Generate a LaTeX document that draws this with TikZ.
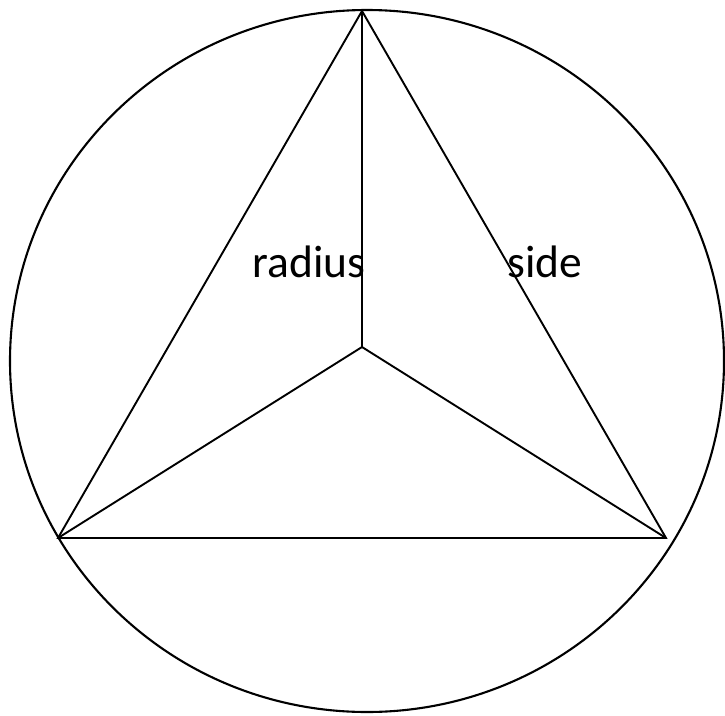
\documentclass[tikz,border=0pt]{standalone}
\usepackage{fontspec}
\setmainfont{Carlito}
\usepackage{tikz}
\usetikzlibrary{positioning}

\begin{document}
\begin{tikzpicture}[x=1pt, y=-1pt,
    edge/.style={line width=1.9pt, black},
    rim/.style={line width=2.1pt, black},
    lbl/.style={anchor=base, inner sep=0pt, font=\fontsize{45.5}{52}\selectfont}
]
    \useasboundingbox (0,0) rectangle (725,715);
    \coordinate (top) at (362,11);
    \coordinate (bl) at (58,538);
    \coordinate (br) at (666,538);
    \coordinate (mid) at (362,347);

    \draw[rim] (367,361) ellipse [x radius=357, y radius=351];

    \draw[edge, line join=miter] (top) -- (bl) -- (br) -- cycle;
    \draw[edge] (mid) -- (top);
    \draw[edge] (mid) -- (bl);
    \draw[edge] (mid) -- (br);

    \node[lbl] (radius) at (309,277) {radius};
    \node[lbl] (side) at (545,277) {side};
\end{tikzpicture}
\end{document}
